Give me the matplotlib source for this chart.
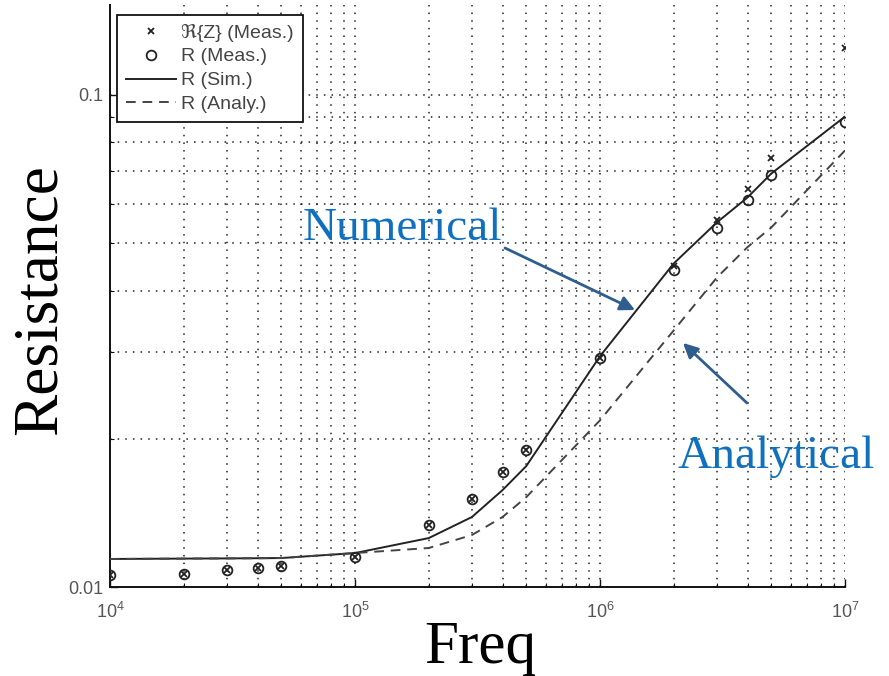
import matplotlib
matplotlib.use("Agg")
import matplotlib.pyplot as plt
from matplotlib.ticker import LogLocator, FixedLocator, NullFormatter, FuncFormatter
import numpy as np

# ---- data ----
freq = [1e4, 2e4, 3e4, 4e4, 5e4, 1e5, 2e5, 3e5, 4e5, 5e5, 1e6, 2e6, 3e6, 4e6, 5e6, 1e7]
re_z_meas = [0.01058, 0.01063, 0.01083, 0.01093, 0.01103, 0.01150, 0.01336, 0.01508,
             0.01711, 0.01896, 0.02913, 0.0448, 0.0555, 0.0642, 0.0745, 0.1245]
r_meas = [0.01058, 0.01063, 0.01083, 0.01093, 0.01103, 0.01150, 0.01336, 0.01508,
          0.01711, 0.01896, 0.02913, 0.0440, 0.0537, 0.0612, 0.0688, 0.0881]
r_sim = [0.01140, 0.01142, 0.01143, 0.01144, 0.01145, 0.01172, 0.01257, 0.01387,
         0.01573, 0.01760, 0.02942, 0.0454, 0.0550, 0.0618, 0.0691, 0.0902]
r_analy = [0.01140, 0.01142, 0.01143, 0.01144, 0.01145, 0.01172, 0.01200, 0.01275,
           0.01387, 0.01522, 0.02180, 0.0332, 0.0425, 0.0490, 0.0537, 0.0770]

legend_labels = ["\u211c{Z} (Meas.)", "R (Meas.)", "R (Sim.)", "R (Analy.)"]
x_label = "Freq"
y_label = "Resistance"
note_num = "Numerical"
note_ana = "Analytical"

plt.rcParams['mathtext.fontset'] = 'custom'
plt.rcParams['mathtext.rm'] = 'Liberation Sans'

W, H = 889, 676
fig = plt.figure(figsize=(W / 100, H / 100), dpi=100)
ax = fig.add_axes([110 / W, 1 - 587 / H, (845 - 110) / W, (587 - 5) / H])

ax.plot(freq, re_z_meas, linestyle='none', marker='x', color='#222222',
        markersize=5, markeredgewidth=1.3, label=legend_labels[0], zorder=4)
ax.plot(freq, r_meas, linestyle='none', marker='o', markerfacecolor='none',
        markeredgecolor='#222222', markersize=7, markeredgewidth=1.3,
        label=legend_labels[1], zorder=4)
ax.plot(freq, r_sim, color='#222222', lw=1.4, label=legend_labels[2], zorder=3)
ax.plot(freq, r_analy, color='#444444', lw=1.4, linestyle=(0, (5, 3.5)),
        label=legend_labels[3], zorder=3)

ax.set_xscale('log')
ax.set_yscale('log')
ax.set_xlim(1e4, 1e7)
ax.set_ylim(0.01, 0.152)

ax.xaxis.set_major_locator(LogLocator(base=10, numticks=10))
ax.xaxis.set_minor_locator(LogLocator(base=10, subs=np.arange(2, 10), numticks=20))
ax.xaxis.set_major_formatter(FuncFormatter(lambda v, p: r'$10^{%d}$' % round(np.log10(v))))
ax.xaxis.set_minor_formatter(NullFormatter())
ax.yaxis.set_major_locator(FixedLocator([0.01, 0.1]))
ax.yaxis.set_minor_locator(LogLocator(base=10, subs=np.arange(2, 10), numticks=20))
ax.yaxis.set_major_formatter(FuncFormatter(lambda v, p: '0.01' if v < 0.05 else '0.1'))
ax.yaxis.set_minor_formatter(NullFormatter())

ax.tick_params(which='both', direction='in', colors='#111111', labelcolor='#555555',
               labelsize=13, top=False, right=False)
ax.tick_params(which='major', length=6, width=1)
ax.tick_params(which='minor', length=3, width=0.8)
for lab in ax.get_xticklabels() + ax.get_yticklabels():
    lab.set_family('Liberation Sans')
ax.tick_params(axis='x', pad=11)
ax.tick_params(axis='y', pad=5)

ax.grid(True, which='both', linestyle=(0, (1, 4)), color='#222222', linewidth=1.1)
for s in ['top', 'right']:
    ax.spines[s].set_visible(False)
for s in ['left', 'bottom']:
    ax.spines[s].set_linewidth(1.4)
    ax.spines[s].set_color('#111111')

leg = ax.legend(loc='upper left', bbox_to_anchor=(0.0095, 0.983), borderaxespad=0,
                prop={'family': ['Liberation Sans', 'DejaVu Sans'], 'size': 14},
                labelspacing=0.32, handlelength=2.6, handletextpad=0.25,
                fancybox=False, framealpha=1, edgecolor='#111111', borderpad=0.45)
leg.get_frame().set_linewidth(1.3)
for t in leg.get_texts():
    t.set_color('#444444')

fig.text(480 / W, 1 - 663 / H, x_label, ha='center', va='baseline',
         family='Liberation Serif', fontsize=44, color='black')
fig.text(41 / W, 1 - 300 / H, y_label, ha='center', va='center', rotation=90,
         family='Liberation Serif', fontsize=45.5, color='black')

blue = '#0F70C0'
arrow_c = '#2E5E8E'
fig.text(303 / W, 1 - 240 / H, note_num, ha='left', va='baseline',
         family='Liberation Serif', fontsize=34, color=blue)
fig.text(677 / W, 1 - 468 / H, note_ana, ha='left', va='baseline',
         family='Liberation Serif', fontsize=34, color=blue)
ax.annotate('', xy=(635 / W, 1 - 310 / H), xytext=(505 / W, 1 - 248 / H),
            xycoords='figure fraction', textcoords='figure fraction',
            arrowprops=dict(arrowstyle='-|>', color=arrow_c, lw=2, mutation_scale=22,
                            shrinkA=0, shrinkB=0))
ax.annotate('', xy=(683 / W, 1 - 343 / H), xytext=(747 / W, 1 - 403 / H),
            xycoords='figure fraction', textcoords='figure fraction',
            arrowprops=dict(arrowstyle='-|>', color=arrow_c, lw=2, mutation_scale=22,
                            shrinkA=0, shrinkB=0))

fig.savefig('out.png', dpi=100)
